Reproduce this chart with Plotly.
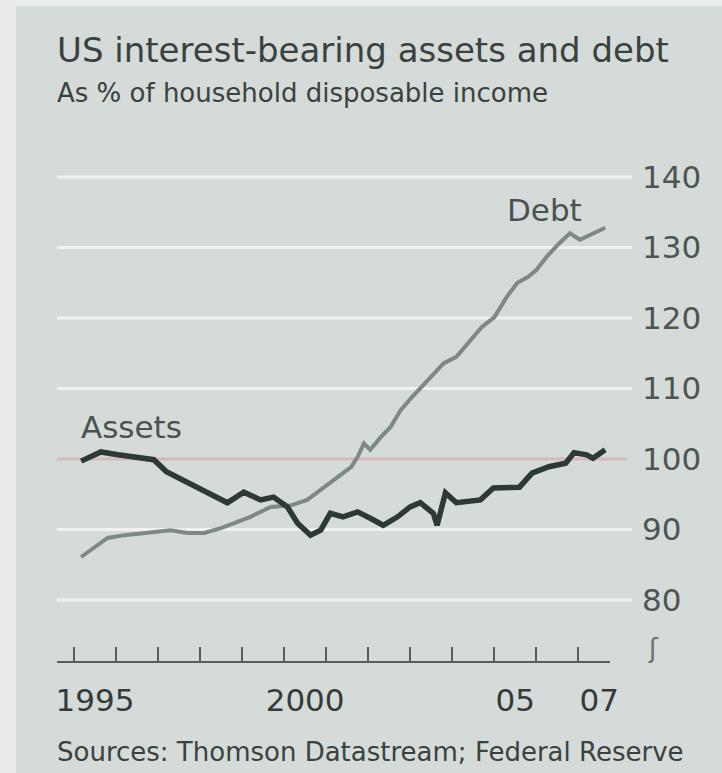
import plotly.graph_objects as go

# ---- data ----
assets_x = [1995.17, 1995.64, 1996.05, 1996.5, 1996.9, 1997.2, 1997.6, 1998.0, 1998.4, 1998.65,
            1999.04, 1999.44, 1999.75, 2000.08, 2000.32, 2000.63, 2000.87, 2001.1, 2001.4, 2001.75,
            2002.05, 2002.36, 2002.7, 2003.0, 2003.24, 2003.55, 2003.64, 2003.84, 2004.1, 2004.67,
            2004.98, 2005.6, 2005.9, 2006.3, 2006.7, 2006.9, 2007.2, 2007.35, 2007.64]
assets_y = [99.7, 101.0, 100.6, 100.3, 99.9, 98.2, 97.0, 95.6, 94.6, 93.8,
            95.3, 94.2, 94.6, 93.2, 90.9, 89.2, 89.9, 92.3, 91.8, 92.5,
            91.6, 90.6, 91.8, 93.2, 93.8, 92.3, 90.6, 95.2, 93.8, 94.2,
            95.9, 96.0, 98.0, 98.9, 99.4, 100.9, 100.6, 100.1, 101.3]

debt_x = [1995.17, 1995.48, 1995.8, 1996.2, 1996.6, 1996.9, 1997.3, 1997.7, 1998.1, 1998.5,
          1998.97, 1999.2, 1999.68, 2000.15, 2000.55, 2000.95, 2001.27, 2001.6, 2001.75, 2001.9,
          2002.05, 2002.3, 2002.53, 2002.77, 2003.0, 2003.5, 2003.8, 2004.1, 2004.4, 2004.7,
          2005.0, 2005.3, 2005.55, 2005.8, 2006.0, 2006.25, 2006.55, 2006.8, 2007.04, 2007.35, 2007.64]
debt_y = [86.1, 87.5, 88.8, 89.2, 89.5, 89.6, 89.9, 89.5, 89.5, 90.2,
          91.3, 91.8, 93.2, 93.4, 94.2, 96.0, 97.4, 98.9, 100.3, 102.2,
          101.3, 103.1, 104.5, 106.9, 108.5, 111.6, 113.6, 114.5, 116.5, 118.7,
          120.1, 123.0, 125.0, 125.8, 126.8, 128.7, 130.6, 132.0, 131.1, 132.0, 132.8]

y_ticks = [80, 90, 100, 110, 120, 130, 140]
year_bounds = list(range(1995, 2008))
label_years = [1995, 2000, 2005, 2007]
label_text = ["1995", "2000", "05", "07"]

FONT = "DejaVu Sans, Verdana, sans-serif"
TXT = "#3a4240"
PANEL = "#d4dbd8"

fig = go.Figure()

# gridlines (extend slightly past plot toward labels)
for v in y_ticks:
    if v == 100:
        continue
    fig.add_shape(type="line", xref="paper", yref="y", x0=0, x1=1.04, y0=v, y1=v,
                  line=dict(color="#eef3f1", width=3), layer="below")
fig.add_shape(type="line", xref="paper", yref="y", x0=0, x1=1.03, y0=100, y1=100,
              line=dict(color="#d6b9b8", width=3), layer="below")

fig.add_trace(go.Scatter(x=debt_x, y=debt_y, mode="lines",
                         line=dict(color="#7d8987", width=4), hoverinfo="skip", showlegend=False))
fig.add_trace(go.Scatter(x=assets_x, y=assets_y, mode="lines",
                         line=dict(color="#2c3937", width=5.5), hoverinfo="skip", showlegend=False))
# dummy trace for secondary x axis (centred year labels)
fig.add_trace(go.Scatter(x=[label_years[0] + 0.5], y=[None], xaxis="x2", showlegend=False, hoverinfo="skip"))

xr = [1994.596, 2007.755]
fig.update_layout(
    width=722, height=773,
    margin=dict(l=57, r=112, t=159, b=112),
    paper_bgcolor=PANEL, plot_bgcolor=PANEL,
    font=dict(family=FONT, color=TXT),
    xaxis=dict(range=xr, tickvals=year_bounds, ticks="inside", ticklen=14, tickwidth=1.5,
               tickcolor="#555e5c", showticklabels=False, showgrid=False, zeroline=False,
               showline=True, linecolor="#555e5c", linewidth=1.5, fixedrange=True),
    xaxis2=dict(range=xr, overlaying="x", side="bottom", anchor="y",
                tickvals=[y + 0.5 for y in label_years], ticktext=label_text, ticks="",
                showgrid=False, zeroline=False, showline=False,
                tickfont=dict(size=31, color="#343b3a"), ticklabelstandoff=18),
    yaxis=dict(range=[71.35, 142.55], side="right", tickvals=y_ticks, ticks="",
               showgrid=False, zeroline=False, showline=False,
               tickfont=dict(size=31, color="#4e5654"), ticklabelstandoff=31),
)

def px(x):
    return (x - 57) / 553.0

def py(y):
    return (661 - y) / 502.0

fig.add_annotation(xref="paper", yref="paper", x=px(55), y=py(50), xanchor="left", yanchor="middle",
                   text="US interest-bearing assets and debt", showarrow=False,
                   font=dict(size=34, color=TXT))
fig.add_annotation(xref="paper", yref="paper", x=px(55), y=py(93), xanchor="left", yanchor="middle",
                   text="As % of household disposable income", showarrow=False,
                   font=dict(size=26, color=TXT))
fig.add_annotation(xref="paper", yref="paper", x=px(55), y=py(752), xanchor="left", yanchor="middle",
                   text="Sources: Thomson Datastream; Federal Reserve", showarrow=False,
                   font=dict(size=26, color=TXT))
fig.add_annotation(xref="x", yref="y", x=1996.38, y=104.6, xanchor="center", yanchor="middle",
                   text="Assets", showarrow=False, font=dict(size=31, color="#4b5351"))
fig.add_annotation(xref="x", yref="y", x=2006.2, y=135.3, xanchor="center", yanchor="middle",
                   text="Debt", showarrow=False, font=dict(size=31, color="#4b5351"))
fig.add_annotation(xref="paper", yref="paper", x=px(653), y=py(648), xanchor="center", yanchor="middle",
                   text="ʃ", showarrow=False, font=dict(size=26, color="#6a7371"))

# outer light border (left and top)
fig.add_shape(type="rect", xref="paper", yref="paper", x0=px(0), x1=px(16), y0=py(773), y1=py(0),
              fillcolor="#ebebeb", line=dict(width=0), layer="below")
fig.add_shape(type="rect", xref="paper", yref="paper", x0=px(0), x1=px(722), y0=py(6), y1=py(0),
              fillcolor="#ebebeb", line=dict(width=0), layer="below")

fig.write_html("out.html")
